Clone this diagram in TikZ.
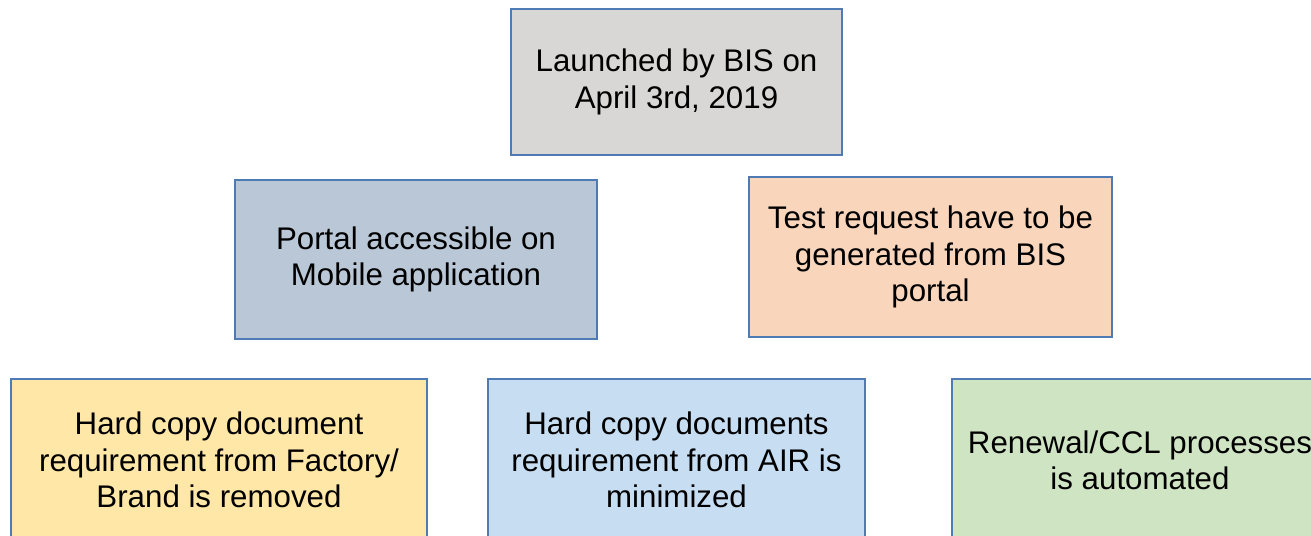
\documentclass[tikz,border=0pt]{standalone}
\usepackage{fontspec}
\setmainfont{Liberation Sans}
\usepackage{xcolor}
\usepackage{tikz}
\definecolor{boxline}{HTML}{4F7BB5}
\definecolor{launchgray}{HTML}{D8D7D6}
\definecolor{portalblue}{HTML}{B9C7D6}
\definecolor{testpeach}{HTML}{F8D5BB}
\definecolor{hardyellow}{HTML}{FFE7A7}
\definecolor{airblue}{HTML}{C7DDF1}
\definecolor{renewgreen}{HTML}{CFE4C3}
\tikzset{infobox/.style={draw=boxline, line width=1.1pt, align=center, inner sep=0pt,
  font=\fontsize{17.8pt}{20.7pt}\selectfont}}

\begin{document}
\begin{tikzpicture}[x=0.02cm,y=-0.02cm]
\useasboundingbox (0,0) rectangle (1311,535);
\clip (0,0) rectangle (1311,535);
\node[infobox,fill=launchgray,minimum width=6.62cm,minimum height=2.92cm] (launch) at (676.5,82) {Launched by BIS on\\April 3rd, 2019};
\node[infobox,fill=portalblue,minimum width=7.24cm,minimum height=3.18cm] (portal) at (416,259.5) {Portal accessible on\\Mobile application};
\node[infobox,fill=testpeach,minimum width=7.26cm,minimum height=3.2cm] (testreq) at (930.5,257) {Test request have to be\\generated from BIS\\portal};
\node[infobox,fill=hardyellow,minimum width=8.32cm,minimum height=3.24cm] (factory) at (219,460) {Hard copy document\\requirement from Factory/\\Brand is removed};
\node[infobox,fill=airblue,minimum width=7.54cm,minimum height=3.24cm] (air) at (676.5,460) {Hard copy documents\\requirement from AIR is\\minimized};
\node[infobox,fill=renewgreen,minimum width=7.52cm,minimum height=3.24cm] (renewal) at (1140,460) {Renewal/CCL processes\\is automated};
\end{tikzpicture}
\end{document}
